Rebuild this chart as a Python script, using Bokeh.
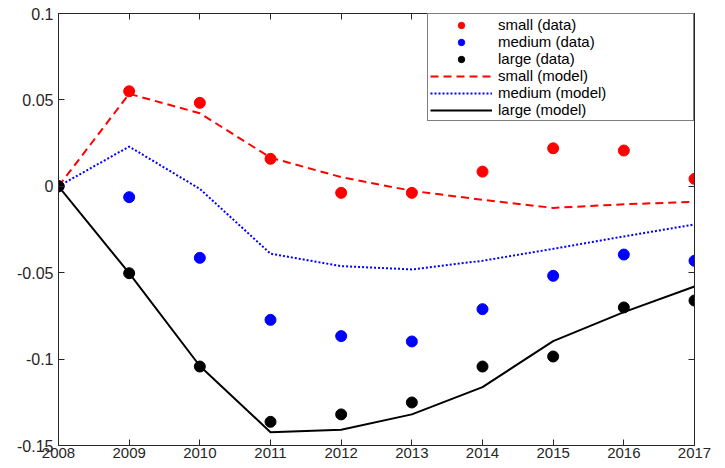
from bokeh.plotting import figure
from bokeh.models import (Range1d, FixedTicker, LinearAxis, Legend, LegendItem,
                          CustomLabelingPolicy)
from bokeh.embed import file_html
from bokeh.resources import INLINE

years = [2008, 2009, 2010, 2011, 2012, 2013, 2014, 2015, 2016, 2017]
small_data = [0, 0.0550, 0.0483, 0.0159, -0.0038, -0.0038, 0.0085, 0.0220, 0.0207, 0.0043]
medium_data = [0, -0.0063, -0.0414, -0.0773, -0.0867, -0.0898, -0.0711, -0.0518, -0.0395, -0.0431]
large_data = [0, -0.0503, -0.1043, -0.1363, -0.1320, -0.1251, -0.1043, -0.0985, -0.0701, -0.0661]
small_model = [0, 0.0535, 0.0423, 0.0166, 0.0053, -0.0026, -0.0078, -0.0125, -0.0104, -0.0090]
medium_model = [0, 0.0230, -0.0015, -0.0390, -0.0462, -0.0481, -0.0431, -0.0362, -0.0290, -0.0221]
large_model = [0, -0.0503, -0.1040, -0.1423, -0.1409, -0.1320, -0.1162, -0.0896, -0.0728, -0.0580]

x_ticks = years
y_ticks = [-0.15, -0.1, -0.05, 0, 0.05, 0.1]
y_tick_labels = ["-0.15", "-0.1", "-0.05", "0", "0.05", "0.1"]
legend_labels = ["small (data)", "medium (data)", "large (data)",
                 "small (model)", "medium (model)", "large (model)"]

FONT = "Liberation Sans"
AX = "#262626"

p = figure(width=725, height=468, x_range=Range1d(2008, 2017), y_range=Range1d(-0.15, 0.1),
           output_backend="svg", toolbar_location=None,
           min_border_left=58, min_border_right=20, min_border_top=13, min_border_bottom=23)
p.grid.visible = False
p.outline_line_color = AX
p.background_fill_color = "white"
p.border_fill_color = "white"

p.xaxis.ticker = FixedTicker(ticks=x_ticks)
p.yaxis.ticker = FixedTicker(ticks=y_ticks)
p.yaxis.major_label_overrides = {t: l for t, l in zip(y_ticks, y_tick_labels)}

for ax in [p.xaxis[0], p.yaxis[0]]:
    ax.major_tick_in = 6
    ax.major_tick_out = 0
    ax.minor_tick_line_color = None
    ax.axis_line_color = AX
    ax.major_tick_line_color = AX
    ax.major_label_text_font = FONT
    ax.major_label_text_font_size = "15px"
    ax.major_label_text_color = AX
p.xaxis.major_label_standoff = 2
p.yaxis.major_label_standoff = 5
p.yaxis.major_label_text_font_size = "16px"

no_labels = "for (const i of indices) { indices.unset(i) } return indices"
top = LinearAxis(ticker=FixedTicker(ticks=x_ticks),
                 major_label_policy=CustomLabelingPolicy(code=no_labels),
                 major_label_standoff=0, major_tick_in=6, major_tick_out=0,
                 minor_tick_line_color=None, axis_line_color=AX, major_tick_line_color=AX)
right = LinearAxis(ticker=FixedTicker(ticks=y_ticks),
                   major_label_policy=CustomLabelingPolicy(code=no_labels),
                   major_label_standoff=0, major_tick_in=6, major_tick_out=0,
                   minor_tick_line_color=None, axis_line_color=AX, major_tick_line_color=AX)
p.add_layout(top, "above")
p.add_layout(right, "right")

l_small = p.line(years, small_model, line_color="#ff0000", line_width=2, line_dash="8 5")
l_medium = p.line(years, medium_model, line_color="#0000ff", line_width=2, line_dash="2 2")
l_large = p.line(years, large_model, line_color="#000000", line_width=2)

d_small = p.scatter(years, small_data, size=11, fill_color="#ff0000", line_color="#ff0000")
d_medium = p.scatter(years, medium_data, size=11, fill_color="#0000ff", line_color="#0000ff")
d_large = p.scatter(years, large_data, size=11, fill_color="#000000", line_color="#000000")

renderers = [d_small, d_medium, d_large, l_small, l_medium, l_large]
items = [LegendItem(label=lab, renderers=[r]) for lab, r in zip(legend_labels, renderers)]
legend = Legend(items=items, location=(369, 324), label_text_font=FONT,
                label_text_font_size="15px", label_text_color="#000000",
                label_height=16, glyph_height=16, glyph_width=62, label_standoff=6,
                label_width=193, spacing=-1, padding=2, margin=0,
                border_line_color="#000000", border_line_width=1,
                background_fill_color="white", background_fill_alpha=1)
p.add_layout(legend)

open("out.html", "w").write(file_html(p, INLINE))
